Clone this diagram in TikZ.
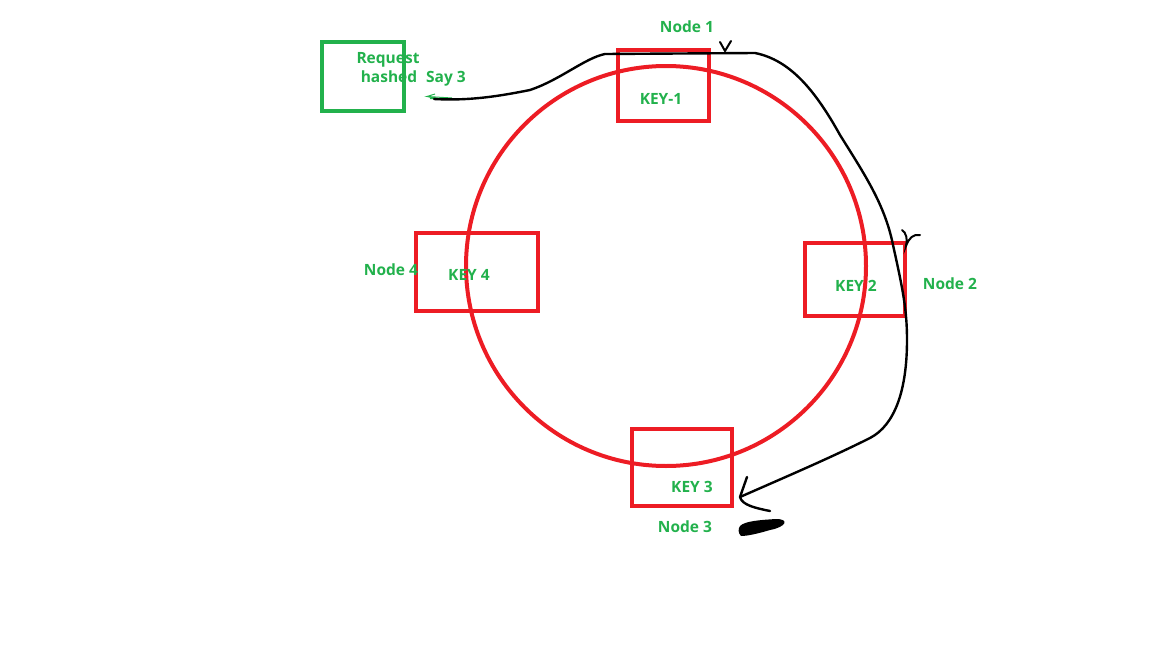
\documentclass[tikz,border=0pt]{standalone}
\usepackage{fontspec}
\setmainfont{Open Sans}
\definecolor{pred}{HTML}{ED1C24}
\definecolor{pgreen}{HTML}{22B14C}
\begin{document}
\begin{tikzpicture}[x=1pt,y=-1pt,
  keybox/.style={draw=pred,line width=4pt,inner sep=0pt,minimum width=#1},
  lbl/.style={text=pgreen,font=\fontsize{15.5}{16}\selectfont\bfseries,inner sep=0pt,align=center},
  ink/.style={black,line width=2.4pt,line cap=round,line join=round}]
\useasboundingbox (0,0) rectangle (1152,648);
% ring
\node[draw=pred,line width=4pt,circle,minimum size=400pt,inner sep=0pt] (ring) at (666,266) {};
% key boxes
\node[keybox=91pt,minimum height=71pt] (k1) at (663.5,85.5) {};
\node[keybox=100pt,minimum height=73pt] (k2) at (855,279.5) {};
\node[keybox=100pt,minimum height=77pt] (k3) at (682,467.5) {};
\node[keybox=122pt,minimum height=78pt] (k4) at (477,272) {};
% request box
\node[draw=pgreen,line width=4pt,inner sep=0pt,minimum width=82pt,minimum height=69pt] (req) at (363,76.5) {};
% labels
\node[lbl] (n1) at (687,27) {Node 1};
\node[lbl] (t1) at (661,99) {KEY-1};
\node[lbl] (n2) at (950,284) {Node 2};
\node[lbl] (t2) at (856,286) {KEY 2};
\node[lbl] (n3) at (685,527) {Node 3};
\node[lbl] (t3) at (692,487) {KEY 3};
\node[lbl] (n4) at (391,270) {Node 4};
\node[lbl] (t4) at (469,275) {KEY 4};
\node[lbl] (rq) at (388,60) {Request};
\node[lbl] (rh) at (389,77) {hashed};
\node[lbl] (say) at (446,79) {Say 3};
% small green arrow
\coordinate (ga) at (427,96.5);
\coordinate (gb) at (452,98);
\draw[pgreen,line width=1pt] (gb) -- (ga) -- (435,94) (ga) -- (436,98.5) (430,98.5) -- (445,99);
% hand-drawn route
\coordinate (cs) at (434,99);
\coordinate (ce) at (740,497);
\draw[ink] (cs) .. controls (470,101) and (500,96) .. (530,90)
  .. controls (560,80) and (585,58) .. (605,54) -- (755,53)
  .. controls (790,60) and (815,90) .. (840,135)
  .. controls (865,175) and (885,205) .. (893,245)
  .. controls (903,290) and (907,310) .. (907,340)
  .. controls (907,390) and (895,425) .. (870,438)
  .. controls (830,458) and (790,475) .. (ce);
\draw[ink] (ce) -- (747,477) (ce) .. controls (742,505) and (755,508) .. (770,511);
% ticks
\draw[black,line width=2pt,line cap=round] (720,42) -- (725,51) -- (731,41);
\draw[black,line width=2pt,line cap=round] (902,230) .. controls (906,232) and (908,240) .. (906,246)
  .. controls (909,238) and (913,234) .. (920,235);
% scribble
\fill[black] (740,526) .. controls (745,521) and (760,520) .. (776,519)
  .. controls (790,519) and (786,527) .. (770,530)
  .. controls (760,533) and (748,536) .. (741,536)
  .. controls (738,533) and (738,529) .. (740,526) -- cycle;
\end{tikzpicture}
\end{document}
